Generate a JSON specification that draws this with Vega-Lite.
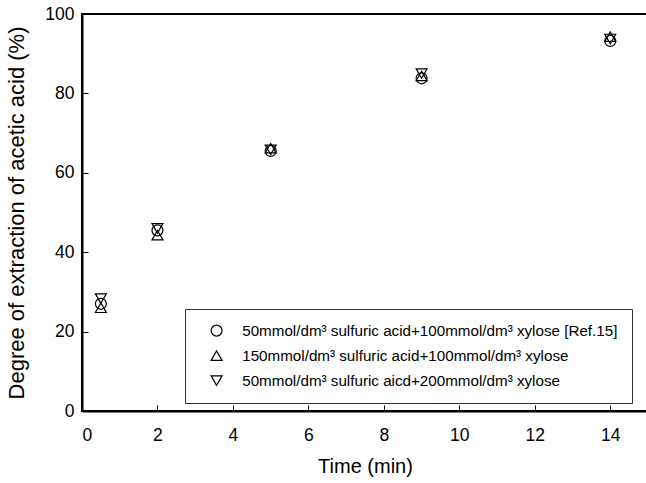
{
  "$schema": "https://vega.github.io/schema/vega-lite/v6.json",
  "width": 566,
  "height": 397,
  "autosize": "none",
  "padding": {"left": 82, "top": 14, "right": 0, "bottom": 72},
  "background": "white",
  "config": {
    "font": "Liberation Sans",
    "view": {"stroke": "black", "strokeWidth": 2},
    "axis": {
      "grid": false,
      "domainColor": "black",
      "domainWidth": 2,
      "tickColor": "black",
      "tickWidth": 1,
      "tickSize": -6,
      "labelFontSize": 17.5,
      "labelColor": "black",
      "titleFontWeight": "normal",
      "titleColor": "black"
    }
  },
  "data": {
    "values": [
      {"t": 0.5, "y": 27.0, "s": "50mmol/dm³ sulfuric acid+100mmol/dm³ xylose [Ref.15]"},
      {"t": 2, "y": 45.5, "s": "50mmol/dm³ sulfuric acid+100mmol/dm³ xylose [Ref.15]"},
      {"t": 5, "y": 65.5, "s": "50mmol/dm³ sulfuric acid+100mmol/dm³ xylose [Ref.15]"},
      {"t": 9, "y": 83.8, "s": "50mmol/dm³ sulfuric acid+100mmol/dm³ xylose [Ref.15]"},
      {"t": 14, "y": 93.2, "s": "50mmol/dm³ sulfuric acid+100mmol/dm³ xylose [Ref.15]"},
      {"t": 0.5, "y": 26.0, "s": "150mmol/dm³ sulfuric acid+100mmol/dm³ xylose"},
      {"t": 2, "y": 44.3, "s": "150mmol/dm³ sulfuric acid+100mmol/dm³ xylose"},
      {"t": 5, "y": 66.2, "s": "150mmol/dm³ sulfuric acid+100mmol/dm³ xylose"},
      {"t": 9, "y": 84.4, "s": "150mmol/dm³ sulfuric acid+100mmol/dm³ xylose"},
      {"t": 14, "y": 94.3, "s": "150mmol/dm³ sulfuric acid+100mmol/dm³ xylose"},
      {"t": 0.5, "y": 28.3, "s": "50mmol/dm³ sulfuric aicd+200mmol/dm³ xylose"},
      {"t": 2, "y": 46.0, "s": "50mmol/dm³ sulfuric aicd+200mmol/dm³ xylose"},
      {"t": 5, "y": 65.8, "s": "50mmol/dm³ sulfuric aicd+200mmol/dm³ xylose"},
      {"t": 9, "y": 85.0, "s": "50mmol/dm³ sulfuric aicd+200mmol/dm³ xylose"},
      {"t": 14, "y": 93.7, "s": "50mmol/dm³ sulfuric aicd+200mmol/dm³ xylose"}
    ]
  },
  "mark": {"type": "point", "filled": false, "color": "black", "strokeWidth": 1.2, "size": 120, "opacity": 1},
  "encoding": {
    "x": {
      "field": "t", "type": "quantitative",
      "scale": {"domain": [0, 15], "nice": false},
      "axis": {"values": [0, 2, 4, 6, 8, 10, 12, 14], "title": "Time (min)", "titleFontSize": 20, "labelPadding": 21, "titlePadding": 13}
    },
    "y": {
      "field": "y", "type": "quantitative",
      "scale": {"domain": [0, 100], "nice": false},
      "axis": {"values": [0, 20, 40, 60, 80, 100], "title": "Degree of extraction of acetic acid (%)", "titleFontSize": 22, "labelPadding": 14, "titlePadding": 16}
    },
    "shape": {
      "field": "s", "type": "nominal",
      "scale": {
        "domain": [
          "50mmol/dm³ sulfuric acid+100mmol/dm³ xylose [Ref.15]",
          "150mmol/dm³ sulfuric acid+100mmol/dm³ xylose",
          "50mmol/dm³ sulfuric aicd+200mmol/dm³ xylose"
        ],
        "range": ["circle", "triangle-up", "triangle-down"]
      },
      "legend": {
        "title": null,
        "orient": "none",
        "legendX": 103,
        "legendY": 295,
        "padding": 14,
        "strokeColor": "#333",
        "fillColor": "white",
        "labelFontSize": 15.2,
        "labelColor": "black",
        "labelLimit": 500,
        "rowPadding": 9,
        "symbolSize": 120,
        "symbolStrokeColor": "black",
        "symbolStrokeWidth": 1.2,
        "symbolFillColor": "transparent",
        "symbolOffset": 10,
        "labelOffset": 18
      }
    }
  }
}
